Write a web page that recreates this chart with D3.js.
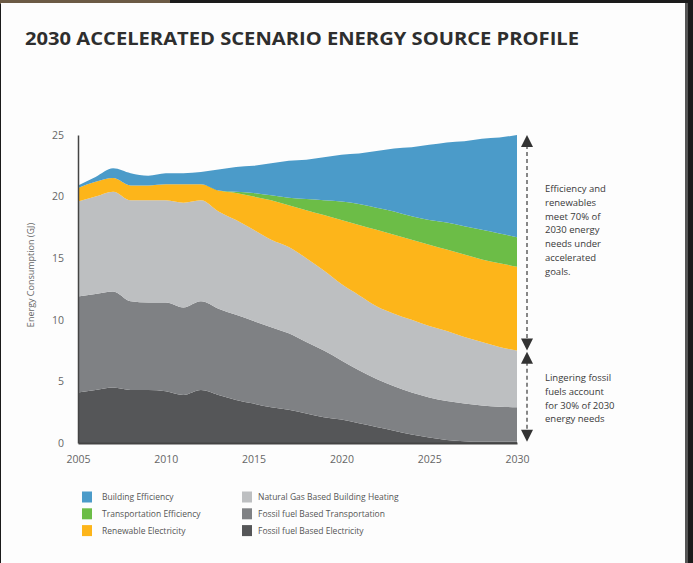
<!DOCTYPE html>
<html>
<head>
<meta charset="utf-8">
<script src="https://cdn.jsdelivr.net/npm/d3@7"></script>
<style>
  html, body { margin: 0; padding: 0; background: #1b1b1b; }
  svg { display: block; }
</style>
</head>
<body>
<script>
// ---- data ----
const years = [2005,2006,2007,2008,2009,2010,2011,2012,2013,2014,2015,2016,2017,2018,2019,2020,2021,2022,2023,2024,2025,2026,2027,2028,2029,2030];
const fossilElectricity = [4.1,4.3,4.5,4.3,4.3,4.2,3.9,4.3,3.9,3.5,3.2,2.9,2.7,2.4,2.1,1.9,1.6,1.3,1.0,0.7,0.45,0.25,0.15,0.1,0.1,0.1];
const fossilTransportation = [7.8,7.8,7.8,7.2,7.1,7.2,7.1,7.2,7.0,6.9,6.7,6.5,6.2,5.8,5.4,4.8,4.3,3.9,3.6,3.4,3.25,3.15,3.05,2.95,2.85,2.8];
const gasHeating = [7.7,7.9,8.1,8.2,8.3,8.3,8.5,8.2,7.9,7.7,7.4,7.1,7.0,6.8,6.5,6.2,6.1,5.9,5.9,5.9,5.8,5.7,5.4,5.15,4.85,4.6];
const renewableElectricity = [1.1,1.2,1.1,1.2,1.2,1.3,1.5,1.3,1.7,2.2,2.7,3.2,3.4,3.9,4.5,5.2,5.7,6.2,6.4,6.5,6.6,6.6,6.7,6.7,6.8,6.8];
const transportationEfficiency = [0,0,0,0,0,0,0,0,0,0.1,0.3,0.4,0.6,0.9,1.2,1.5,1.7,1.8,1.9,1.9,2.0,2.2,2.3,2.4,2.4,2.4];
const buildingEfficiency = [0.2,0.4,0.8,1.0,0.8,0.9,0.9,1.0,1.7,2.0,2.2,2.6,3.0,3.2,3.5,3.8,4.1,4.6,5.1,5.6,6.1,6.5,6.9,7.4,7.8,8.3];

const xTicks = [2005,2010,2015,2020,2025,2030];
const yTicks = [0,5,10,15,20,25];

const seriesKeys = ["elec","trans","gas","renew","transEff","buildEff"];
const seriesLabels = {
  buildEff: "Building Efficiency",
  transEff: "Transportation Efficiency",
  renew: "Renewable Electricity",
  gas: "Natural Gas Based Building Heating",
  trans: "Fossil fuel Based Transportation",
  elec: "Fossil fuel Based Electricity"
};
const seriesColors = {
  buildEff: "#4b9bc9",
  transEff: "#6cbd47",
  renew: "#fdb51a",
  gas: "#bdbfc1",
  trans: "#7f8184",
  elec: "#555658"
};
const legendCol1 = ["buildEff","transEff","renew"];
const legendCol2 = ["gas","trans","elec"];

const title = "2030 ACCELERATED SCENARIO ENERGY SOURCE PROFILE";
const yTitle = "Energy Consumption (GJ)";
const note1 = ["Efficiency and","renewables","meet 70% of","2030 energy","needs under","accelerated","goals."];
const note2 = ["Lingering fossil","fuels account","for 30% of 2030","energy needs"];

// ---- table ----
const table = years.map((y, i) => ({
  year: y,
  elec: fossilElectricity[i],
  trans: fossilTransportation[i],
  gas: gasHeating[i],
  renew: renewableElectricity[i],
  transEff: transportationEfficiency[i],
  buildEff: buildingEfficiency[i]
}));

const W = 693, H = 563;
const svg = d3.select("body").append("svg").attr("width", W).attr("height", H);

// photo frame: dark border + white card
svg.append("rect").attr("x",0).attr("y",0).attr("width",W).attr("height",H).attr("fill","#1b1b1b");
svg.append("rect").attr("x",0).attr("y",0).attr("width",170).attr("height",4).attr("fill","#6b5a45");
svg.append("rect").attr("x",1).attr("y",3).attr("width",684).attr("height",H-3).attr("fill","#fdfdfd");
svg.append("rect").attr("x",685).attr("y",3).attr("width",3).attr("height",H-3).attr("fill","#555");

// title
svg.append("text")
  .attr("x", 25).attr("y", 45)
  .attr("font-family", "'Open Sans', 'DejaVu Sans', sans-serif")
  .attr("font-weight", 700)
  .attr("font-size", 18)
  .attr("fill", "#2e2e2e")
  .attr("textLength", 554)
  .attr("lengthAdjust", "spacingAndGlyphs")
  .text(title);

const x = d3.scaleLinear().domain([2005, 2030]).range([78, 517]);
const y = d3.scaleLinear().domain([0, 25]).range([443, 135]);

const stack = d3.stack().keys(seriesKeys);
const layers = stack(table);

const area = d3.area()
  .x(d => x(d.data.year))
  .y0(d => y(d[0]))
  .y1(d => y(d[1]))
  .curve(d3.curveMonotoneX);

svg.append("g").selectAll("path")
  .data(layers)
  .join("path")
  .attr("d", area)
  .attr("fill", d => seriesColors[d.key]);

// axes
const xAxis = d3.axisBottom(x).tickValues(xTicks).tickFormat(d3.format("d")).tickSize(0).tickPadding(13);
const gx = svg.append("g").attr("transform", `translate(0,${y(0)})`).call(xAxis);
gx.select(".domain").attr("stroke", "#444").attr("stroke-width", 2);
gx.selectAll("text").attr("font-family", "'Open Sans', sans-serif").attr("font-size", 10.5).attr("fill", "#666");

const yAxis = d3.axisLeft(y).tickValues(yTicks).tickSize(0).tickPadding(14);
const gy = svg.append("g").attr("transform", `translate(${x(2005)},0)`).call(yAxis);
gy.select(".domain").attr("stroke", "#444").attr("stroke-width", 1.5);
gy.selectAll("text").attr("font-family", "'Open Sans', sans-serif").attr("font-size", 10.5).attr("fill", "#666");

svg.append("text")
  .attr("transform", `translate(34,${(y(0)+y(25))/2 - 14}) rotate(-90)`)
  .attr("text-anchor", "middle")
  .attr("font-family", "'Open Sans', sans-serif")
  .attr("font-size", 9)
  .attr("fill", "#666")
  .text(yTitle);

// annotation arrows
const ax = 527;
function arrow(v0, v1) {
  const yt = y(v0), yb = y(v1);
  svg.append("line")
    .attr("x1", ax).attr("x2", ax)
    .attr("y1", yt + 10).attr("y2", yb - 10)
    .attr("stroke", "#555").attr("stroke-width", 1.4)
    .attr("stroke-dasharray", "4,3");
  svg.append("path")
    .attr("d", `M${ax},${yt} L${ax-6},${yt+12} L${ax+6},${yt+12} Z`)
    .attr("fill", "#333");
  svg.append("path")
    .attr("d", `M${ax},${yb} L${ax-6},${yb-12} L${ax+6},${yb-12} Z`)
    .attr("fill", "#333");
}
arrow(25, 7.5);
arrow(7.4, 0.1);

function note(lines, y0) {
  const t = svg.append("text")
    .attr("font-family", "'Open Sans', sans-serif")
    .attr("font-size", 9.5)
    .attr("fill", "#3a3a3a");
  lines.forEach((l, i) => {
    t.append("tspan").attr("x", 545).attr("y", y0 + i * 13.8).text(l);
  });
}
note(note1, 192);
note(note2, 381);

// legend
function legendCol(keys, sx, tx) {
  keys.forEach((k, i) => {
    const cy = 497 + i * 16.8;
    svg.append("rect")
      .attr("x", sx).attr("y", cy - 5.5)
      .attr("width", 10).attr("height", 11)
      .attr("fill", seriesColors[k]);
    svg.append("text")
      .attr("x", tx).attr("y", cy + 3)
      .attr("font-family", "'Open Sans', sans-serif")
      .attr("font-size", 8.5)
      .attr("fill", "#555")
      .text(seriesLabels[k]);
  });
}
legendCol(legendCol1, 82, 102);
legendCol(legendCol2, 242, 258);
</script>
</body>
</html>
